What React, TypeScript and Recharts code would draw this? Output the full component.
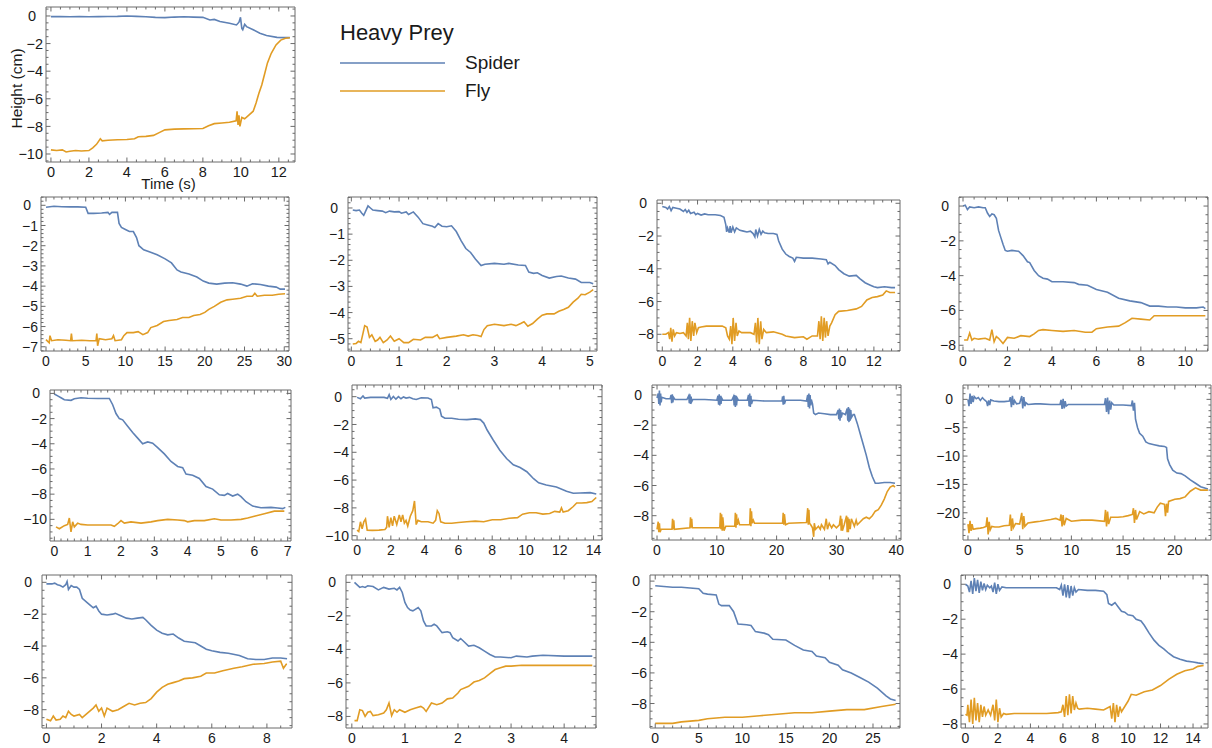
import React from 'react';
import { LineChart, Line, XAxis, YAxis, ReferenceArea, Legend } from 'recharts';

const SPIDER = '#5E81B5';
const FLY = '#E19C24';
const FRAME = '#6a6a6a';
const TEXT = '#1a1a1a';
const FONT = '"Liberation Sans", Arial, Helvetica, sans-serif';
const legendOrder = ['Spider', 'Fly'];

type P = [number, number][];

// ---------- Panel A (main) ----------
const aSpider: P = [[0,-0.05],[0.5,-0.05],[1,-0.06],[1.5,-0.05],[2,-0.06],[2.5,-0.05],[3,-0.04],[3.5,-0.03],[4,0.0],[4.5,-0.03],[5,-0.06],[5.5,-0.1],[6,-0.12],[6.5,-0.08],[7,-0.06],[7.5,-0.08],[8,-0.1],[8.37,-0.29],[8.6,-0.25],[8.9,-0.4],[9.4,-0.53],[9.77,-0.65],[9.9,-0.45],[9.98,-0.1],[10.05,-0.9],[10.1,-1.0],[10.2,-0.6],[10.3,-0.77],[10.65,-1.0],[11.0,-1.25],[11.35,-1.42],[11.9,-1.55],[12.3,-1.57],[12.58,-1.57]];
const aFly: P = [[0,-9.7],[0.3,-9.75],[0.6,-9.7],[0.8,-9.85],[1,-9.8],[1.3,-9.75],[1.6,-9.78],[2,-9.75],[2.2,-9.55],[2.4,-9.3],[2.6,-8.9],[2.7,-9.05],[3,-9.0],[3.5,-8.97],[4,-8.95],[4.4,-8.9],[4.6,-8.75],[5,-8.72],[5.4,-8.65],[5.7,-8.45],[6,-8.25],[6.5,-8.2],[7,-8.18],[7.5,-8.17],[8,-8.15],[8.3,-7.95],[8.6,-7.8],[9,-7.75],[9.4,-7.7],[9.75,-7.6],[9.8,-6.9],[9.85,-7.9],[9.9,-7.2],[9.95,-8.0],[10.05,-7.35],[10.2,-7.45],[10.45,-7.15],[10.65,-6.9],[10.8,-6.3],[10.95,-5.6],[11.1,-5.0],[11.25,-4.2],[11.4,-3.4],[11.6,-2.7],[11.85,-2.1],[12.1,-1.75],[12.35,-1.62],[12.58,-1.58]];

// ---------- Row 2 ----------
const b1Spider: P = [[0,-0.1],[1,-0.05],[2,-0.07],[3,-0.08],[4,-0.08],[5,-0.1],[5.3,-0.4],[6,-0.4],[7,-0.38],[7.8,-0.35],[8,-0.45],[8.3,-0.35],[9,-0.35],[9.2,-0.9],[9.5,-1.1],[10,-1.2],[10.5,-1.3],[11,-1.3],[11.4,-1.6],[11.7,-2.0],[12.3,-2.2],[13,-2.3],[14,-2.45],[15,-2.65],[15.8,-2.85],[16.5,-3.2],[17,-3.3],[18,-3.4],[19,-3.55],[19.8,-3.75],[20.5,-3.85],[21.5,-3.9],[22.5,-3.85],[23.5,-3.83],[24.5,-3.9],[25.3,-4.0],[26,-3.88],[27,-3.92],[28,-4.0],[29,-4.05],[29.5,-4.15],[30.1,-4.15]];
const b1Fly: P = [[0,-6.65],[0.4,-6.8],[0.5,-6.45],[0.7,-6.7],[1.5,-6.65],[2.5,-6.68],[3.1,-6.7],[3.2,-6.35],[3.3,-6.7],[4.5,-6.68],[5.5,-6.7],[6.3,-6.7],[6.4,-6.35],[6.5,-6.95],[6.7,-6.6],[7.5,-6.65],[8.3,-6.6],[8.5,-6.45],[8.7,-6.7],[9.5,-6.65],[9.8,-6.45],[10.2,-6.3],[11,-6.3],[11.6,-6.25],[12.2,-6.4],[12.8,-6.3],[13.2,-6.05],[14,-5.95],[14.8,-5.75],[15.5,-5.7],[16.5,-5.65],[17.2,-5.55],[18,-5.55],[18.6,-5.45],[19.4,-5.4],[20,-5.3],[20.5,-5.15],[21.2,-5.0],[22,-4.8],[22.8,-4.68],[23.5,-4.65],[24.5,-4.6],[25.3,-4.5],[26,-4.5],[26.3,-4.35],[26.6,-4.5],[27.5,-4.45],[28.5,-4.45],[29.3,-4.4],[30.1,-4.38]];

const b2Spider: P = [[0.03,-0.08],[0.1,-0.1],[0.17,-0.08],[0.22,-0.2],[0.26,-0.28],[0.3,-0.12],[0.35,0.08],[0.4,0.0],[0.45,-0.08],[0.55,-0.1],[0.65,-0.12],[0.72,-0.18],[0.8,-0.12],[0.9,-0.15],[1.0,-0.14],[1.05,-0.2],[1.15,-0.15],[1.2,-0.25],[1.3,-0.15],[1.4,-0.35],[1.5,-0.6],[1.6,-0.65],[1.7,-0.7],[1.75,-0.75],[1.82,-0.6],[1.9,-0.7],[2.0,-0.72],[2.1,-0.68],[2.2,-0.9],[2.3,-1.25],[2.4,-1.55],[2.5,-1.7],[2.6,-1.95],[2.72,-2.2],[2.8,-2.15],[3.0,-2.12],[3.2,-2.15],[3.3,-2.12],[3.5,-2.18],[3.65,-2.2],[3.72,-2.45],[3.82,-2.5],[3.9,-2.48],[4.0,-2.58],[4.15,-2.68],[4.3,-2.62],[4.4,-2.6],[4.55,-2.68],[4.7,-2.72],[4.82,-2.85],[5.0,-2.85],[5.07,-2.9]];
const b2Fly: P = [[0.03,-5.2],[0.1,-5.18],[0.15,-5.1],[0.2,-5.15],[0.25,-4.75],[0.28,-4.5],[0.33,-4.55],[0.38,-4.95],[0.43,-4.85],[0.5,-5.1],[0.55,-5.05],[0.6,-4.95],[0.67,-5.15],[0.75,-5.05],[0.82,-4.9],[0.9,-5.1],[1.0,-5.0],[1.1,-5.15],[1.2,-5.15],[1.3,-5.02],[1.45,-5.05],[1.55,-4.95],[1.7,-4.95],[1.8,-4.85],[1.85,-5.0],[2.0,-4.95],[2.2,-4.9],[2.35,-4.85],[2.45,-4.9],[2.55,-4.85],[2.65,-4.88],[2.72,-4.92],[2.78,-4.65],[2.85,-4.5],[3.0,-4.45],[3.2,-4.5],[3.35,-4.45],[3.45,-4.5],[3.55,-4.42],[3.62,-4.35],[3.7,-4.52],[3.8,-4.42],[3.9,-4.25],[4.0,-4.1],[4.1,-4.05],[4.25,-4.05],[4.35,-3.95],[4.45,-3.88],[4.55,-3.8],[4.65,-3.6],[4.75,-3.45],[4.82,-3.3],[4.9,-3.32],[5.0,-3.22],[5.07,-3.12]];

const b3Spider: P = [[0,-0.2],[0.2,-0.25],[0.3,-0.35],[0.4,-0.2],[0.5,-0.45],[0.6,-0.25],[0.8,-0.3],[1.0,-0.35],[1.2,-0.5],[1.3,-0.38],[1.4,-0.55],[1.5,-0.42],[1.6,-0.62],[1.8,-0.55],[1.9,-0.7],[2.0,-0.62],[2.2,-0.72],[2.4,-0.65],[2.6,-0.7],[3.0,-0.7],[3.3,-0.75],[3.5,-0.85],[3.6,-1.3],[3.65,-1.75],[3.7,-1.5],[3.8,-1.8],[3.85,-1.4],[3.9,-1.8],[4.0,-1.45],[4.1,-1.75],[4.2,-1.5],[4.4,-1.65],[4.6,-1.7],[4.8,-1.75],[5.0,-1.7],[5.15,-1.85],[5.25,-2.05],[5.3,-1.6],[5.4,-2.0],[5.5,-1.6],[5.6,-1.9],[5.7,-1.7],[5.8,-1.8],[6.0,-1.85],[6.3,-1.85],[6.5,-1.9],[6.6,-2.3],[6.8,-2.8],[7.0,-3.1],[7.2,-3.25],[7.4,-3.35],[7.5,-3.55],[7.6,-3.3],[8.0,-3.35],[8.5,-3.35],[9.0,-3.4],[9.3,-3.45],[9.4,-3.7],[9.5,-3.6],[9.8,-3.8],[10.0,-4.05],[10.3,-4.3],[10.6,-4.45],[11.0,-4.4],[11.2,-4.6],[11.5,-4.85],[11.8,-5.0],[12.0,-5.1],[12.2,-5.15],[12.6,-5.1],[13.0,-5.15],[13.2,-5.15]];
const b3Fly: P = [[0,-8.0],[0.2,-8.0],[0.35,-7.9],[0.42,-8.3],[0.48,-7.6],[0.55,-8.45],[0.62,-7.7],[0.7,-8.1],[0.8,-7.9],[1.0,-7.95],[1.2,-7.9],[1.35,-8.1],[1.42,-7.3],[1.48,-8.3],[1.55,-7.0],[1.62,-8.4],[1.7,-7.2],[1.78,-8.1],[1.85,-7.3],[1.95,-7.9],[2.05,-7.6],[2.2,-7.55],[2.5,-7.5],[3.0,-7.5],[3.4,-7.5],[3.6,-7.6],[3.7,-8.1],[3.8,-8.3],[3.88,-7.5],[3.95,-8.6],[4.02,-7.0],[4.1,-8.4],[4.18,-7.3],[4.25,-8.1],[4.35,-7.8],[4.5,-7.9],[5.0,-7.9],[5.2,-8.0],[5.28,-7.3],[5.35,-8.5],[5.42,-7.0],[5.5,-8.6],[5.58,-7.2],[5.65,-8.3],[5.75,-7.7],[5.9,-7.9],[6.3,-7.85],[6.8,-8.0],[7.0,-8.1],[7.5,-8.2],[8.0,-8.15],[8.2,-8.3],[8.5,-8.1],[8.8,-8.1],[8.88,-7.2],[8.95,-8.3],[9.02,-6.9],[9.1,-8.4],[9.18,-7.0],[9.25,-8.2],[9.32,-7.2],[9.4,-8.1],[9.5,-7.5],[9.6,-7.3],[9.8,-6.8],[10.0,-6.6],[10.5,-6.55],[11.0,-6.45],[11.3,-6.3],[11.6,-5.9],[11.9,-5.75],[12.2,-5.7],[12.5,-5.6],[12.7,-5.35],[12.9,-5.45],[13.2,-5.45]];

const b4Spider: P = [[0,0.0],[0.1,0.05],[0.2,-0.2],[0.3,-0.05],[0.5,-0.1],[0.7,-0.05],[0.9,-0.1],[1.0,-0.1],[1.1,-0.4],[1.2,-0.6],[1.3,-0.45],[1.4,-0.5],[1.5,-0.7],[1.6,-1.4],[1.7,-1.8],[1.8,-2.2],[1.9,-2.55],[2.0,-2.6],[2.2,-2.55],[2.5,-2.6],[2.7,-2.85],[2.9,-3.2],[3.0,-3.25],[3.2,-3.7],[3.4,-4.0],[3.6,-4.15],[3.8,-4.2],[4.0,-4.35],[4.5,-4.35],[5.0,-4.4],[5.2,-4.5],[5.6,-4.55],[6.0,-4.8],[6.5,-4.95],[7.0,-5.3],[7.5,-5.45],[8.0,-5.55],[8.4,-5.75],[8.8,-5.75],[9.2,-5.8],[9.6,-5.8],[10.0,-5.85],[10.5,-5.85],[10.8,-5.8],[10.9,-5.9]];
const b4Fly: P = [[0.05,-7.7],[0.2,-7.7],[0.3,-7.3],[0.4,-7.7],[0.5,-7.6],[0.7,-7.65],[1.0,-7.6],[1.2,-7.7],[1.3,-7.1],[1.4,-7.8],[1.5,-7.5],[1.6,-7.6],[1.8,-7.9],[2.0,-7.55],[2.3,-7.6],[2.6,-7.45],[3.0,-7.5],[3.2,-7.35],[3.4,-7.15],[3.6,-7.1],[4.0,-7.15],[4.5,-7.2],[5.0,-7.15],[5.5,-7.25],[5.8,-7.25],[6.0,-7.05],[6.5,-6.95],[7.0,-6.9],[7.3,-6.7],[7.6,-6.45],[8.0,-6.5],[8.4,-6.55],[8.6,-6.3],[9.0,-6.3],[9.5,-6.3],[10.0,-6.3],[10.9,-6.3]];

// ---------- Row 3 ----------
const c1Spider: P = [[0,-0.05],[0.1,-0.2],[0.2,-0.35],[0.3,-0.5],[0.5,-0.55],[0.6,-0.42],[0.8,-0.35],[1.0,-0.38],[1.3,-0.4],[1.65,-0.4],[1.75,-0.9],[1.85,-1.6],[1.95,-2.0],[2.05,-2.1],[2.2,-2.6],[2.35,-3.1],[2.5,-3.55],[2.65,-4.0],[2.8,-3.85],[2.95,-3.95],[3.1,-4.3],[3.3,-4.8],[3.5,-5.4],[3.7,-5.8],[3.85,-5.9],[3.95,-6.4],[4.15,-6.5],[4.35,-6.75],[4.55,-7.4],[4.75,-7.6],[4.95,-8.05],[5.1,-8.1],[5.2,-7.95],[5.35,-8.15],[5.5,-8.0],[5.6,-8.2],[5.75,-8.6],[5.95,-8.95],[6.2,-9.08],[6.5,-9.05],[6.7,-9.1],[6.85,-9.15],[6.93,-9.05]];
const c1Fly: P = [[0.05,-10.6],[0.15,-10.75],[0.3,-10.5],[0.4,-10.4],[0.45,-9.9],[0.5,-11.0],[0.55,-10.2],[0.6,-10.6],[0.7,-10.3],[0.8,-10.4],[1.0,-10.45],[1.4,-10.45],[1.7,-10.45],[1.8,-10.55],[1.9,-10.35],[2.0,-10.1],[2.1,-10.3],[2.3,-10.2],[2.6,-10.3],[2.9,-10.2],[3.1,-10.1],[3.4,-10.0],[3.7,-10.05],[3.9,-10.1],[4.0,-10.2],[4.2,-10.1],[4.5,-10.1],[4.8,-9.95],[5.0,-10.05],[5.3,-10.05],[5.6,-10.0],[5.8,-9.9],[6.0,-9.75],[6.3,-9.55],[6.6,-9.35],[6.9,-9.35]];

const c2Spider: P = [[0,-0.05],[0.2,-0.15],[0.35,0.05],[0.45,-0.1],[0.8,-0.05],[1.2,-0.05],[1.6,-0.05],[1.8,-0.12],[1.9,0.15],[2.0,-0.2],[2.15,0.02],[2.3,-0.18],[2.45,0.0],[2.6,-0.15],[2.75,-0.02],[2.9,-0.1],[3.1,-0.05],[3.3,-0.15],[3.5,-0.2],[3.8,-0.08],[4.2,-0.1],[4.4,-0.2],[4.5,-0.8],[4.7,-0.75],[4.9,-0.9],[5.0,-1.4],[5.2,-1.55],[5.6,-1.55],[6.0,-1.62],[6.5,-1.65],[7.0,-1.6],[7.3,-1.65],[7.5,-1.9],[7.7,-2.4],[8.05,-3.1],[8.45,-3.85],[8.85,-4.45],[9.25,-4.9],[9.65,-5.1],[10.05,-5.4],[10.45,-5.9],[10.75,-6.2],[11.2,-6.35],[11.8,-6.5],[12.4,-6.8],[12.8,-6.95],[13.2,-6.93],[13.8,-6.9],[14.16,-7.0]];
const c2Fly: P = [[0,-9.6],[0.1,-9.7],[0.2,-9.0],[0.3,-9.5],[0.4,-9.0],[0.5,-8.8],[0.6,-9.6],[0.9,-9.62],[1.3,-9.6],[1.65,-9.55],[1.75,-9.4],[1.8,-8.6],[1.9,-9.4],[2.0,-8.7],[2.1,-9.3],[2.2,-8.6],[2.35,-9.2],[2.5,-8.5],[2.6,-9.0],[2.7,-8.5],[2.8,-9.1],[2.9,-8.9],[3.0,-9.3],[3.15,-8.6],[3.3,-8.2],[3.4,-7.5],[3.5,-9.2],[3.6,-8.9],[3.8,-9.0],[4.2,-9.0],[4.5,-9.1],[4.65,-8.9],[4.75,-8.2],[4.85,-8.4],[4.95,-9.0],[5.2,-9.1],[5.6,-9.1],[6.0,-9.05],[6.5,-9.0],[7.0,-8.95],[7.5,-9.0],[8.0,-8.85],[8.5,-8.85],[9.0,-8.75],[9.5,-8.7],[9.8,-8.45],[10.2,-8.35],[10.6,-8.35],[11.0,-8.45],[11.4,-8.4],[11.7,-8.25],[12.0,-8.3],[12.1,-8.0],[12.2,-8.3],[12.5,-8.2],[12.8,-7.9],[13.0,-7.65],[13.3,-7.65],[13.6,-7.62],[13.9,-7.55],[14.16,-7.25]];

const c3Spider: P = [[0,-0.2],[0.2,0.1],[0.3,-0.6],[0.4,0.3],[0.5,-0.7],[0.6,0.1],[0.7,-0.5],[0.8,-0.15],[1.5,-0.25],[2.2,-0.25],[2.35,0.0],[2.45,-0.55],[2.55,0.05],[2.65,-0.5],[2.75,-0.15],[3,-0.3],[5,-0.3],[5.3,-0.05],[5.4,-0.55],[5.5,0.05],[5.6,-0.6],[5.7,-0.1],[5.8,-0.45],[6,-0.3],[8,-0.3],[10,-0.35],[10.2,-0.05],[10.3,-0.65],[10.4,0.05],[10.5,-0.7],[10.6,-0.05],[10.7,-0.6],[10.8,-0.2],[11,-0.35],[12.5,-0.35],[12.8,-0.1],[12.9,-0.7],[13.0,0.0],[13.1,-0.8],[13.2,-0.05],[13.3,-0.7],[13.4,-0.2],[13.6,-0.35],[15.1,-0.35],[15.3,0.0],[15.4,-0.75],[15.5,0.1],[15.6,-0.8],[15.7,-0.05],[15.8,-0.6],[16,-0.35],[18,-0.4],[20,-0.4],[20.9,-0.4],[21.0,-0.1],[21.1,-0.65],[21.2,-0.05],[21.3,-0.6],[21.5,-0.35],[24,-0.35],[25,-0.4],[25.2,0.0],[25.3,-0.8],[25.4,0.1],[25.5,-0.9],[25.6,0.0],[25.7,-0.7],[25.8,-0.3],[26.0,-0.6],[26.2,-1.2],[26.5,-1.3],[27,-1.2],[28,-1.25],[29,-1.3],[30,-1.3],[30.3,-1.0],[30.4,-1.6],[30.5,-0.9],[30.6,-1.7],[30.7,-1.0],[30.8,-1.5],[31,-1.2],[31.5,-1.3],[31.8,-0.9],[31.9,-1.7],[32.0,-0.8],[32.1,-1.8],[32.2,-0.9],[32.3,-1.7],[32.4,-1.0],[32.5,-1.5],[32.8,-1.3],[33.0,-1.3],[33.5,-1.9],[34,-2.6],[34.5,-3.3],[35,-4.0],[35.5,-4.8],[36,-5.4],[36.5,-5.85],[37,-5.85],[38,-5.8],[39,-5.8],[39.8,-5.85]];
const c3Fly: P = [[0,-8.9],[0.2,-8.4],[0.3,-9.1],[0.4,-8.5],[0.5,-9.1],[0.7,-8.9],[1,-8.9],[2.5,-8.9],[2.6,-8.2],[2.7,-8.9],[2.8,-8.3],[2.9,-8.9],[5.5,-8.8],[5.6,-8.1],[5.7,-8.8],[5.8,-8.2],[5.9,-8.8],[10.5,-8.8],[10.6,-7.8],[10.7,-8.9],[10.8,-7.9],[10.9,-9.0],[11.0,-8.1],[11.2,-9.0],[11.5,-8.7],[13,-8.7],[13.1,-7.8],[13.2,-8.8],[13.3,-7.9],[13.4,-8.6],[13.6,-8.3],[13.8,-8.6],[15.5,-8.6],[15.6,-7.5],[15.7,-8.7],[15.8,-7.7],[15.9,-8.5],[16.1,-8.3],[16.3,-8.5],[20,-8.5],[21,-8.5],[21.1,-7.8],[21.2,-8.6],[21.3,-7.9],[21.5,-8.6],[22,-8.5],[25,-8.45],[25.2,-7.5],[25.3,-8.6],[25.4,-7.6],[25.5,-8.5],[25.7,-8.6],[26,-8.8],[26.2,-9.4],[26.3,-8.5],[26.5,-8.9],[27,-8.7],[27.3,-8.9],[27.5,-8.6],[28,-8.9],[28.3,-8.2],[28.5,-8.9],[28.8,-8.5],[29.2,-8.8],[29.5,-8.6],[30.0,-8.8],[30.5,-8.6],[30.7,-8.0],[30.8,-9.0],[30.9,-8.2],[31.0,-9.0],[31.3,-8.6],[31.7,-8.0],[31.8,-9.1],[31.9,-8.1],[32.0,-9.1],[32.1,-8.2],[32.3,-8.9],[32.5,-8.2],[33,-8.7],[33.3,-8.3],[33.5,-8.6],[34,-8.4],[34.5,-8.2],[35,-8.1],[35.5,-8.2],[36,-8.0],[36.5,-7.7],[37,-7.6],[37.5,-7.3],[38,-6.9],[38.5,-6.4],[39,-6.1],[39.5,-6.0],[39.8,-6.1]];

const c4Spider: P = [[0,0.0],[0.1,-1.2],[0.2,1.0],[0.3,-0.8],[0.4,0.6],[0.5,-0.5],[0.6,0.5],[0.8,0.1],[1.0,0.3],[1.2,-0.2],[1.4,0.3],[1.6,-0.1],[1.8,-0.4],[1.9,-1.2],[2.0,-0.2],[2.1,-1.0],[2.2,-0.1],[2.5,-0.3],[3,-0.4],[3.5,-0.4],[4,-0.3],[4.1,0.4],[4.2,-1.4],[4.3,0.6],[4.4,-1.0],[4.5,-0.2],[4.7,-0.8],[5,-0.7],[5.2,0.6],[5.3,-1.6],[5.4,0.4],[5.5,-1.2],[5.6,-0.6],[5.8,-0.9],[6.5,-0.8],[7,-0.8],[8,-0.9],[8.9,-0.9],[9.0,-0.1],[9.1,-1.7],[9.2,0.1],[9.3,-1.6],[9.4,-0.3],[9.5,-1.2],[9.7,-0.9],[11,-0.9],[12,-0.9],[13.2,-0.9],[13.3,0.2],[13.4,-2.2],[13.5,0.3],[13.6,-2.6],[13.7,-0.2],[13.8,-1.8],[13.9,-0.6],[14.1,-1.0],[15,-1.0],[15.8,-1.1],[15.9,-0.2],[16.0,-2.0],[16.1,-0.6],[16.2,-3.5],[16.4,-5.0],[16.6,-6.0],[16.9,-6.5],[17.2,-7.5],[17.5,-7.8],[18,-8.0],[18.5,-8.2],[19,-8.3],[19.2,-8.5],[19.3,-10.5],[19.5,-11.5],[19.8,-12.5],[20.2,-13.0],[20.6,-13.1],[21,-13.5],[21.5,-14.2],[22,-14.8],[22.5,-15.4],[23.2,-15.8]];
const c4Fly: P = [[0,-22.0],[0.1,-23.6],[0.2,-21.4],[0.3,-23.2],[0.4,-22.0],[0.5,-22.9],[0.8,-22.8],[1.2,-22.7],[1.5,-22.6],[1.75,-22.4],[1.85,-20.8],[1.95,-23.8],[2.05,-21.6],[2.15,-23.0],[2.3,-22.4],[2.6,-22.5],[3,-22.5],[3.5,-22.3],[4.0,-22.2],[4.1,-20.3],[4.2,-23.2],[4.3,-21.0],[4.4,-22.6],[4.6,-21.9],[5,-22.0],[5.2,-20.0],[5.3,-22.9],[5.4,-20.6],[5.5,-22.4],[5.8,-21.8],[6.5,-21.6],[7,-21.5],[8,-21.2],[8.5,-21.0],[8.9,-21.3],[9.0,-20.3],[9.1,-22.4],[9.2,-20.4],[9.3,-22.2],[9.5,-21.0],[10,-21.5],[11,-21.3],[12,-21.3],[13.2,-21.5],[13.3,-19.5],[13.4,-22.4],[13.5,-19.8],[13.6,-22.0],[13.8,-20.8],[14.5,-20.8],[15,-20.7],[15.5,-20.5],[15.9,-20.3],[16.0,-19.2],[16.1,-21.8],[16.2,-19.5],[16.3,-21.2],[16.6,-19.8],[17,-20.2],[17.5,-19.8],[18,-20.0],[18.3,-19.0],[18.6,-18.3],[19,-18.5],[19.1,-20.6],[19.2,-18.4],[19.3,-20.0],[19.4,-18.0],[20,-17.6],[20.5,-17.5],[21,-17.2],[21.5,-16.2],[22,-15.6],[22.5,-16.0],[23.2,-16.0]];

// ---------- Row 4 ----------
const d1Spider: P = [[0,-0.1],[0.2,-0.1],[0.3,-0.05],[0.4,-0.15],[0.5,-0.2],[0.6,-0.3],[0.7,-0.15],[0.75,0.05],[0.8,-0.45],[0.9,-0.2],[1.0,-0.3],[1.1,-0.3],[1.2,-0.45],[1.3,-1.0],[1.5,-1.3],[1.7,-1.6],[1.8,-1.5],[1.9,-1.8],[2.0,-2.0],[2.2,-2.05],[2.4,-2.0],[2.5,-1.95],[2.7,-2.1],[2.9,-2.25],[3.1,-2.3],[3.3,-2.25],[3.5,-2.2],[3.6,-2.35],[3.8,-2.7],[4.0,-3.0],[4.2,-3.2],[4.4,-3.3],[4.6,-3.25],[4.8,-3.5],[5.0,-3.7],[5.2,-3.75],[5.4,-3.8],[5.6,-4.0],[5.8,-4.2],[6.0,-4.3],[6.3,-4.4],[6.6,-4.45],[7.0,-4.6],[7.3,-4.8],[7.6,-4.85],[7.9,-4.85],[8.2,-4.75],[8.5,-4.75],[8.73,-4.8]];
const d1Fly: P = [[0,-8.6],[0.15,-8.7],[0.25,-8.4],[0.35,-8.65],[0.5,-8.6],[0.6,-8.4],[0.7,-8.5],[0.8,-8.1],[0.9,-8.3],[1.0,-8.4],[1.2,-8.3],[1.3,-8.5],[1.5,-8.2],[1.7,-7.9],[1.8,-7.7],[1.9,-8.1],[2.0,-7.9],[2.1,-8.4],[2.2,-7.9],[2.4,-8.1],[2.6,-8.0],[2.8,-7.8],[3.0,-7.6],[3.2,-7.7],[3.4,-7.6],[3.6,-7.55],[3.8,-7.3],[4.0,-6.9],[4.2,-6.6],[4.4,-6.4],[4.6,-6.3],[4.8,-6.2],[5.0,-6.05],[5.3,-6.0],[5.6,-5.9],[5.8,-5.7],[6.1,-5.7],[6.4,-5.55],[6.8,-5.4],[7.1,-5.3],[7.5,-5.15],[7.9,-5.1],[8.2,-5.0],[8.5,-4.95],[8.6,-5.4],[8.7,-5.15],[8.73,-5.15]];

const d2Spider: P = [[0.05,0.0],[0.1,-0.15],[0.15,-0.3],[0.2,-0.25],[0.25,-0.3],[0.3,-0.2],[0.4,-0.25],[0.5,-0.45],[0.6,-0.3],[0.7,-0.4],[0.8,-0.35],[0.85,-0.45],[0.9,-0.3],[0.95,-0.6],[1.0,-1.2],[1.05,-1.5],[1.1,-1.65],[1.15,-1.7],[1.25,-1.5],[1.3,-1.7],[1.35,-2.3],[1.4,-2.6],[1.5,-2.6],[1.55,-2.5],[1.6,-2.6],[1.7,-3.0],[1.8,-2.95],[1.85,-3.0],[1.9,-3.3],[2.0,-3.5],[2.05,-3.35],[2.1,-3.5],[2.2,-3.8],[2.3,-3.75],[2.4,-3.9],[2.5,-4.1],[2.6,-4.3],[2.7,-4.45],[2.8,-4.45],[3.0,-4.5],[3.1,-4.4],[3.3,-4.45],[3.4,-4.4],[3.6,-4.35],[4.0,-4.4],[4.53,-4.4]];
const d2Fly: P = [[0.05,-8.25],[0.1,-8.25],[0.15,-7.6],[0.2,-7.65],[0.25,-8.0],[0.3,-7.75],[0.35,-7.7],[0.4,-7.95],[0.5,-7.9],[0.6,-7.8],[0.65,-7.6],[0.7,-7.2],[0.75,-7.95],[0.8,-7.6],[0.85,-7.75],[0.9,-7.6],[1.0,-7.75],[1.1,-7.6],[1.2,-7.5],[1.3,-7.4],[1.35,-7.5],[1.4,-7.7],[1.5,-7.2],[1.6,-7.3],[1.7,-7.2],[1.8,-6.95],[1.9,-6.9],[2.0,-6.6],[2.05,-6.4],[2.2,-6.2],[2.3,-5.95],[2.4,-5.85],[2.5,-5.7],[2.6,-5.45],[2.7,-5.2],[2.8,-5.1],[2.9,-5.0],[3.0,-5.0],[3.2,-4.95],[3.5,-4.95],[4.0,-4.95],[4.53,-4.95]];

const d3Spider: P = [[0,-0.3],[1,-0.35],[2,-0.4],[3,-0.4],[4,-0.45],[5,-0.5],[5.5,-0.8],[6,-0.85],[7,-0.9],[7.3,-1.5],[7.6,-1.6],[8.5,-1.6],[9,-2.0],[9.5,-2.8],[10.5,-2.85],[11,-2.9],[11.5,-3.3],[12.5,-3.4],[13,-3.5],[13.5,-3.8],[15,-3.85],[16,-4.2],[17,-4.5],[18,-4.6],[18.5,-4.9],[19.5,-5.0],[20,-5.3],[21,-5.5],[21.5,-5.8],[22.5,-6.0],[23.5,-6.3],[24.5,-6.6],[25.5,-7.0],[26.5,-7.5],[27,-7.7],[27.6,-7.8]];
const d3Fly: P = [[0,-9.3],[2,-9.3],[3,-9.2],[5,-9.1],[6,-9.0],[8,-8.9],[10,-8.9],[12,-8.8],[14,-8.7],[16,-8.6],[18,-8.6],[20,-8.5],[22,-8.4],[24,-8.4],[26,-8.2],[27.6,-8.05]];

const d4Spider: P = [[0,0.0],[0.15,-0.1],[0.25,-0.45],[0.35,0.2],[0.45,-0.55],[0.55,0.35],[0.65,-0.4],[0.75,0.25],[0.85,-0.5],[0.95,0.15],[1.05,-0.35],[1.15,0.05],[1.25,-0.3],[1.35,-0.05],[1.5,-0.2],[1.6,-0.1],[1.7,-0.45],[1.8,0.1],[1.9,-0.55],[2.0,0.0],[2.1,-0.35],[2.25,-0.15],[2.5,-0.2],[3,-0.2],[4,-0.2],[5,-0.2],[5.6,-0.2],[5.8,-0.3],[5.9,-0.05],[6.0,-0.65],[6.1,0.0],[6.2,-0.75],[6.3,-0.05],[6.4,-0.8],[6.5,-0.1],[6.6,-0.65],[6.7,-0.2],[6.8,-0.45],[6.95,-0.3],[7.5,-0.35],[8.0,-0.35],[8.5,-0.4],[8.7,-0.6],[8.8,-1.1],[9.0,-1.2],[9.2,-1.05],[9.4,-1.3],[9.6,-1.55],[9.8,-1.6],[10.0,-1.75],[10.3,-1.8],[10.5,-2.0],[10.8,-2.1],[11.0,-2.35],[11.3,-2.8],[11.6,-3.2],[11.9,-3.5],[12.2,-3.7],[12.5,-3.95],[12.8,-4.15],[13.2,-4.3],[13.6,-4.4],[14.0,-4.45],[14.3,-4.5],[14.65,-4.55]];
const d4Fly: P = [[0,-7.45],[0.1,-7.5],[0.15,-6.9],[0.25,-7.9],[0.35,-6.6],[0.45,-8.0],[0.55,-6.5],[0.65,-7.8],[0.75,-6.8],[0.85,-7.9],[0.95,-6.9],[1.05,-7.6],[1.15,-7.0],[1.25,-7.5],[1.4,-7.2],[1.55,-7.5],[1.7,-6.9],[1.8,-7.8],[1.9,-6.6],[2.0,-7.9],[2.1,-7.1],[2.2,-7.6],[2.35,-7.4],[2.5,-7.45],[3.0,-7.4],[4.0,-7.4],[5.0,-7.4],[5.7,-7.35],[5.9,-7.3],[6.0,-6.9],[6.1,-7.6],[6.2,-6.4],[6.3,-7.5],[6.4,-6.3],[6.5,-7.4],[6.6,-6.4],[6.7,-7.2],[6.8,-6.8],[6.9,-7.1],[7.0,-7.15],[7.5,-7.1],[8.0,-7.15],[8.5,-7.2],[8.9,-7.0],[9.0,-7.7],[9.1,-6.8],[9.2,-7.9],[9.3,-6.9],[9.4,-7.6],[9.5,-7.0],[9.6,-7.3],[9.8,-7.0],[10.0,-6.7],[10.2,-6.3],[10.5,-6.35],[11.0,-6.15],[11.5,-6.05],[12.0,-5.8],[12.5,-5.45],[13.0,-5.15],[13.5,-4.95],[14.0,-4.85],[14.3,-4.7],[14.65,-4.65]];

// ---------- tick labels ----------
const ticks0to12by2 = [0, 2, 4, 6, 8, 10, 12];
const ticks0to30by5 = [0, 5, 10, 15, 20, 25, 30];
const ticks0to5 = [0, 1, 2, 3, 4, 5];
const ticks0to10by2 = [0, 2, 4, 6, 8, 10];
const ticks0to7 = [0, 1, 2, 3, 4, 5, 6, 7];
const ticks0to14by2 = [0, 2, 4, 6, 8, 10, 12, 14];
const ticks0to40by10 = [0, 10, 20, 30, 40];
const ticks0to20by5 = [0, 5, 10, 15, 20];
const ticks0to8by2 = [0, 2, 4, 6, 8];
const ticks0to4 = [0, 1, 2, 3, 4];
const ticks0to25by5 = [0, 5, 10, 15, 20, 25];
const yTicksTo10 = [0, -2, -4, -6, -8, -10];
const yTicksTo7 = [0, -1, -2, -3, -4, -5, -6, -7];
const yTicksTo5 = [0, -1, -2, -3, -4, -5];
const yTicksTo8 = [0, -2, -4, -6, -8];
const yTicksTo20 = [0, -5, -10, -15, -20];

type Box = { x: number; y: number; w: number; h: number };
type PanelDef = {
  box: Box; xd: [number, number]; yd: [number, number];
  xt: number[]; yt: number[]; xm: number; ym: number;
  spider: P; fly: P; main?: boolean;
};

const panels: PanelDef[] = [
  { box: { x: 46, y: 7, w: 249, h: 155 }, xd: [-0.26, 12.85], yd: [-10.58, 0.65], xt: ticks0to12by2, yt: yTicksTo10, xm: 0.5, ym: 0.5, spider: aSpider, fly: aFly, main: true },
  { box: { x: 41, y: 197, w: 248, h: 154 }, xd: [-0.63, 30.6], yd: [-7.21, 0.41], xt: ticks0to30by5, yt: yTicksTo7, xm: 1, ym: 0.2, spider: b1Spider, fly: b1Fly },
  { box: { x: 348, y: 197, w: 249, h: 154 }, xd: [-0.07, 5.15], yd: [-5.47, 0.42], xt: ticks0to5, yt: yTicksTo5, xm: 0.2, ym: 0.2, spider: b2Spider, fly: b2Fly },
  { box: { x: 657, y: 200, w: 243, h: 151 }, xd: [-0.3, 13.48], yd: [-9.02, 0.2], xt: ticks0to12by2, yt: yTicksTo8, xm: 0.5, ym: 0.5, spider: b3Spider, fly: b3Fly },
  { box: { x: 959, y: 197, w: 249, h: 154 }, xd: [-0.18, 11.02], yd: [-8.33, 0.52], xt: ticks0to10by2, yt: yTicksTo8, xm: 0.5, ym: 0.5, spider: b4Spider, fly: b4Fly },
  { box: { x: 50, y: 390, w: 241, h: 151 }, xd: [-0.13, 7.1], yd: [-11.72, 0.27], xt: ticks0to7, yt: yTicksTo10, xm: 0.2, ym: 0.5, spider: c1Spider, fly: c1Fly },
  { box: { x: 352, y: 385, w: 250, h: 155 }, xd: [-0.3, 14.5], yd: [-10.31, 0.84], xt: ticks0to14by2, yt: yTicksTo10, xm: 0.5, ym: 0.5, spider: c2Spider, fly: c2Fly },
  { box: { x: 652, y: 385, w: 249, h: 155 }, xd: [-0.84, 40.8], yd: [-9.61, 0.66], xt: ticks0to40by10, yt: yTicksTo8, xm: 2, ym: 0.5, spider: c3Spider, fly: c3Fly },
  { box: { x: 963, y: 385, w: 248, h: 155 }, xd: [-0.48, 23.5], yd: [-24.8, 2.53], xt: ticks0to20by5, yt: yTicksTo20, xm: 1, ym: 1, spider: c4Spider, fly: c4Fly },
  { box: { x: 42, y: 575, w: 250, h: 153 }, xd: [-0.16, 8.91], yd: [-9.15, 0.46], xt: ticks0to8by2, yt: yTicksTo8, xm: 0.5, ym: 0.5, spider: d1Spider, fly: d1Fly },
  { box: { x: 346, y: 575, w: 250, h: 153 }, xd: [-0.11, 4.6], yd: [-8.69, 0.44], xt: ticks0to4, yt: yTicksTo8, xm: 0.2, ym: 0.5, spider: d2Spider, fly: d2Fly },
  { box: { x: 650, y: 575, w: 250, h: 153 }, xd: [-0.6, 28.1], yd: [-9.6, 0.4], xt: ticks0to25by5, yt: yTicksTo8, xm: 1, ym: 0.5, spider: d3Spider, fly: d3Fly },
  { box: { x: 961, y: 575, w: 247, h: 153 }, xd: [-0.27, 14.92], yd: [-8.23, 0.53], xt: ticks0to14by2, yt: yTicksTo8, xm: 0.5, ym: 0.5, spider: d4Spider, fly: d4Fly },
];

const toRows = (p: P) => p.map(([t, h]) => ({ t, h }));
const near = (arr: number[], v: number) => arr.some((m) => Math.abs(m - v) < 1e-6);
const fmt = (v: number) => (v < 0 ? '\u2212' + String(Math.abs(v)) : String(v));

function withMinors(majors: number[], step: number, d: [number, number]) {
  const out: number[] = majors.filter((m) => m >= d[0] && m <= d[1]);
  const k0 = Math.ceil(d[0] / step - 1e-9);
  const k1 = Math.floor(d[1] / step + 1e-9);
  for (let k = k0; k <= k1; k++) {
    const v = Math.round(k * step * 1e6) / 1e6;
    if (!near(out, v)) out.push(v);
  }
  return out.sort((a, b) => a - b);
}

const FS = 14;

function renderLegend(props: any) {
  const payload = [...(props.payload || [])].sort(
    (a: any, b: any) => legendOrder.indexOf(a.value) - legendOrder.indexOf(b.value)
  );
  return (
    <div style={{ fontFamily: FONT, color: TEXT }}>
      <div style={{ fontSize: 22, lineHeight: '26px', height: 26 }}>Heavy Prey</div>
      <div style={{ height: 3 }} />
      {payload.map((item: any) => (
        <div key={item.value} style={{ display: 'flex', alignItems: 'center', height: 28 }}>
          <svg width={105} height={4} style={{ display: 'block' }}>
            <line x1={0} x2={105} y1={2} y2={2} stroke={item.color} strokeWidth={1.6} />
          </svg>
          <span style={{ marginLeft: 20, fontSize: 19 }}>{item.value}</span>
        </div>
      ))}
    </div>
  );
}

function Panel({ def }: { def: PanelDef }) {
  const { box, xd, yd, xt, yt, xm, ym, spider, fly, main } = def;
  const padL = main ? 46 : 50;
  const padT = 6;
  const padR = 6;
  const padB = main ? 36 : 24;
  const xAll = withMinors(xt, xm, xd);
  const yAll = withMinors(yt, ym, yd);
  const { w, h } = box;
  const fs = main ? 14.5 : FS;

  const XTick = (props: any) => {
    const { x, y, payload } = props;
    const v = payload.value;
    const major = near(xt, v);
    const len = major ? 4.5 : 2.5;
    return (
      <g>
        <line x1={x} x2={x} y1={y} y2={y - len} stroke={FRAME} strokeWidth={1} />
        <line x1={x} x2={x} y1={y - h} y2={y - h + len} stroke={FRAME} strokeWidth={1} />
        {major ? (
          <text x={x} y={y + 14.5} textAnchor="middle" fontSize={fs} fill={TEXT} fontFamily={FONT}>
            {fmt(v)}
          </text>
        ) : null}
      </g>
    );
  };

  const YTick = (props: any) => {
    const { x, y, payload } = props;
    const v = payload.value;
    const major = near(yt, v);
    const len = major ? 4.5 : 2.5;
    return (
      <g>
        <line x1={x} x2={x + len} y1={y} y2={y} stroke={FRAME} strokeWidth={1} />
        <line x1={x + w} x2={x + w - len} y1={y} y2={y} stroke={FRAME} strokeWidth={1} />
        {major ? (
          <text x={x - (v === 0 ? 10 : 3)} y={y} dy="0.36em" textAnchor="end" fontSize={fs} fill={TEXT} fontFamily={FONT}>
            {fmt(v)}
          </text>
        ) : null}
      </g>
    );
  };

  return (
    <div style={{ position: 'absolute', left: box.x - padL, top: box.y - padT }}>
      <LineChart width={w + padL + padR} height={h + padT + padB} margin={{ top: padT, right: padR, left: 0, bottom: 0 }}>
        <XAxis
          type="number" dataKey="t" domain={xd} allowDataOverflow ticks={xAll} interval={0}
          tickSize={0} tickMargin={0} tickLine={false} axisLine={false} tick={XTick} height={padB}
          label={main ? (p: any) => {
            const vb = p.viewBox || {};
            return (
              <text x={(vb.x ?? 46) + w / 2 - 2} y={(vb.y ?? 162) + 27} textAnchor="middle" fontSize={15} fill={TEXT} fontFamily={FONT}>
                Time (s)
              </text>
            );
          } : undefined}
        />
        <YAxis
          type="number" dataKey="h" domain={yd} allowDataOverflow ticks={yAll} interval={0}
          tickSize={0} tickMargin={0} tickLine={false} axisLine={false} tick={YTick} width={padL}
          label={main ? (p: any) => {
            const vb = p.viewBox || {};
            const cx = (vb.x ?? 0) + 17;
            const cy = (vb.y ?? 7) + h / 2 + 4;
            return (
              <text x={cx} y={cy} dy="0.35em" textAnchor="middle" transform={`rotate(-90 ${cx} ${cy})`} fontSize={15.5} fill={TEXT} fontFamily={FONT}>
                Height (cm)
              </text>
            );
          } : undefined}
        />
        <ReferenceArea x1={xd[0]} x2={xd[1]} y1={yd[0]} y2={yd[1]} fill="none" stroke={FRAME} strokeWidth={1} ifOverflow="visible" />
        <Line data={toRows(spider)} dataKey="h" name="Spider" stroke={SPIDER} strokeWidth={1.6} dot={false} isAnimationActive={false} type="linear" />
        <Line data={toRows(fly)} dataKey="h" name="Fly" stroke={FLY} strokeWidth={1.6} dot={false} isAnimationActive={false} type="linear" />
        {main ? (
          <Legend
            layout="horizontal" verticalAlign="middle" align="center"
            content={renderLegend}
            wrapperStyle={{ left: 340 - (box.x - padL), top: 20 - (box.y - padT), width: 260, height: 90 }}
          />
        ) : null}
      </LineChart>
    </div>
  );
}

export default function App() {
  return (
    <div style={{ position: 'absolute', left: 0, top: 0, width: 1212, height: 748, background: '#ffffff', overflow: 'hidden', fontFamily: FONT }}>
      {panels.map((p, i) => (
        <Panel key={i} def={p} />
      ))}
    </div>
  );
}
